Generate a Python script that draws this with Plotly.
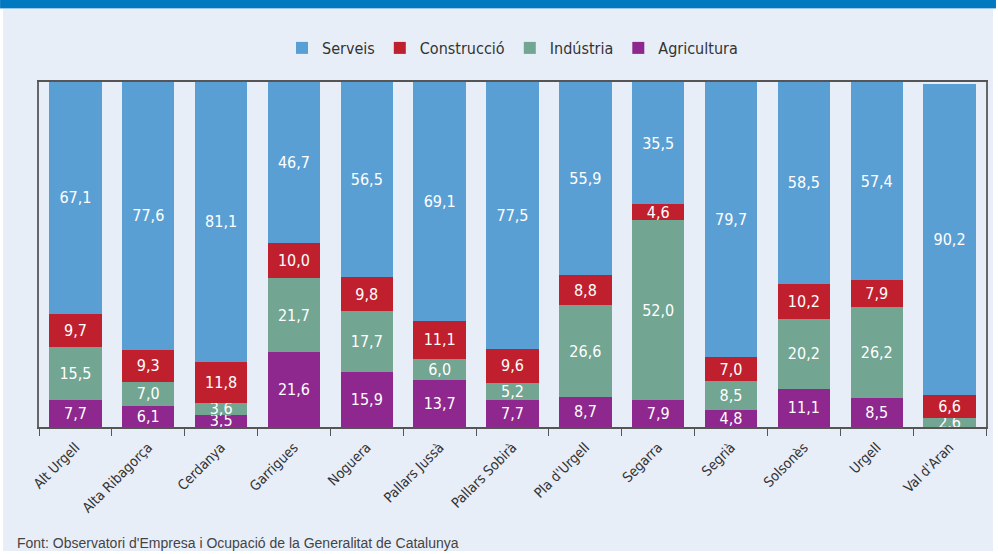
import plotly.graph_objects as go

comarques = ["Alt Urgell", "Alta Ribagorça", "Cerdanya", "Garrigues", "Noguera", "Pallars Jussà",
             "Pallars Sobirà", "Pla d'Urgell", "Segarra", "Segrià", "Solsonès", "Urgell", "Val d'Aran"]
agricultura = [7.7, 6.1, 3.5, 21.6, 15.9, 13.7, 7.7, 8.7, 7.9, 4.8, 11.1, 8.5, None]
industria = [15.5, 7.0, 3.6, 21.7, 17.7, 6.0, 5.2, 26.6, 52.0, 8.5, 20.2, 26.2, 2.6]
construccio = [9.7, 9.3, 11.8, 10.0, 9.8, 11.1, 9.6, 8.8, 4.6, 7.0, 10.2, 7.9, 6.6]
serveis = [67.1, 77.6, 81.1, 46.7, 56.5, 69.1, 77.5, 55.9, 35.5, 79.7, 58.5, 57.4, 90.2]

FONT = "DejaVu Sans Condensed, Liberation Sans Narrow, Liberation Sans, Arial, sans-serif"

def fmt(vals):
    return ["" if v is None else f"{v:.1f}".replace(".", ",") for v in vals]

fig = go.Figure()
for name, vals, col in [("Agricultura", agricultura, "#8e278e"),
                        ("Indústria", industria, "#72a592"),
                        ("Construcció", construccio, "#c0202e"),
                        ("Serveis", serveis, "#5a9fd4")]:
    fig.add_trace(go.Bar(
        x=comarques, y=vals, name=name, marker=dict(color=col, line=dict(width=0)),
        text=fmt(vals), textposition="inside", insidetextanchor="middle",
        textangle=0, constraintext="none",
        textfont=dict(color="white", size=16, family=FONT),
        hoverinfo="x+y+name"))

W0, W1 = 39, 988
T0, B0 = 82, 427
pw, ph = W1 - W0, B0 - T0

def px(x):
    return (x - W0) / pw

def py(y):
    return (B0 - y) / ph

fig.update_layout(
    width=998, height=554,
    margin=dict(l=W0, r=998 - W1, t=T0, b=554 - B0),
    paper_bgcolor="white", plot_bgcolor="rgba(0,0,0,0)",
    barmode="stack", bargap=0.28,
    font=dict(family=FONT, color="#333333"),
    legend=dict(orientation="h", traceorder="reversed", x=0.5, xanchor="center",
                y=py(48), yanchor="middle", font=dict(size=16, color="#333333"),
                bgcolor="rgba(0,0,0,0)", itemwidth=30),
    showlegend=True,
    shapes=[
        dict(type="rect", xref="paper", yref="paper", x0=px(3), x1=px(995), y0=py(551), y1=py(8),
             fillcolor="#e8eef8", line=dict(width=0), layer="below"),
        dict(type="rect", xref="paper", yref="paper", x0=px(0), x1=px(998), y0=py(8), y1=py(-2),
             fillcolor="#0079c1", line=dict(width=0), layer="below"),
        dict(type="line", xref="paper", yref="paper", x0=px(0), x1=px(998), y0=py(8.5), y1=py(8.5),
             line=dict(color="#9cc6e6", width=1), layer="below"),
    ],
    annotations=[
        dict(text="Font: Observatori d'Empresa i Ocupació de la Generalitat de Catalunya",
             xref="paper", yref="paper", x=px(15), y=py(543), xanchor="left", yanchor="middle",
             showarrow=False, font=dict(size=14, color="#444444", family="Liberation Sans, Arial, sans-serif")),
    ],
)
fig.update_xaxes(showline=True, linecolor="#555555", linewidth=1.5, mirror=True,
                 ticks="outside", tickson="boundaries", ticklen=7, tickcolor="#555555",
                 tickangle=-45, ticklabelstandoff=5, tickfont=dict(size=14, color="#333333"),
                 showgrid=False)
fig.update_yaxes(range=[0, 100], showline=True, linecolor="#666666", linewidth=1.5, mirror=True,
                 showticklabels=False, ticks="", showgrid=False, zeroline=False)

fig.write_html("out.html", config={"displayModeBar": False},
               post_script="document.body.style.margin='0';document.body.style.padding='0';")
